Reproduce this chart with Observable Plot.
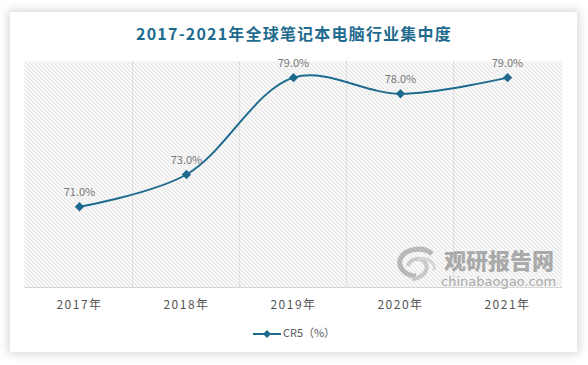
<!DOCTYPE html>
<html>
<head>
<meta charset="utf-8">
<script src="https://cdn.jsdelivr.net/npm/d3@7"></script>
<script src="https://cdn.jsdelivr.net/npm/@observablehq/plot@0.6"></script>
<style>
  html, body { margin: 0; padding: 0; background: #fff; width: 588px; height: 365px; overflow: hidden; }
  #card { position: absolute; left: 10px; top: 12px; width: 567px; height: 340px; background: #fff;
          box-shadow: 0 0 9px 2px rgba(0,0,0,0.16); }
  #title { position: absolute; left: 0; top: 22px; width: 588px; text-align: center; white-space: nowrap;
           font-family: "Noto Sans CJK SC", sans-serif; font-weight: bold; font-size: 16px;
           letter-spacing: 1.2px; color: #1f6b8f; line-height: 22px; }
  #chart { position: absolute; left: 0; top: 45px; }
  #legend { position: absolute; left: 0; top: 323px; width: 588px; text-align: center;
            font-family: "Noto Sans CJK SC", sans-serif; font-size: 11px; color: #595959; line-height: 18px; }
  #legend svg { vertical-align: middle; margin-right: 2px; }
  #wm { position: absolute; left: 396px; top: 246px; opacity: 0.55; pointer-events: none; }
  #wm .cn { position: absolute; left: 48px; top: 1px; font-family: "Noto Sans CJK SC", sans-serif;
            font-weight: 900; font-size: 22px; color: #6f6f6f; white-space: nowrap; line-height: 24px; }
  #wm .en { position: absolute; left: 45px; top: 29px; font-family: "DejaVu Sans", sans-serif;
            font-size: 13px; color: #6f6f6f; white-space: nowrap; line-height: 13px; }
</style>
</head>
<body>
<div id="card"></div>
<div id="title">2017-2021年全球笔记本电脑行业集中度</div>
<div id="chart"></div>
<div id="wm">
  <svg width="44" height="36" viewBox="0 0 44 36">
    <path d="M36,8 C28,0 8,2 4,14 C2,22 10,30 20,30" fill="none" stroke="#8a8a8a" stroke-width="5"/>
    <path d="M12,20 C14,12 26,10 30,18 C33,25 26,32 16,33" fill="none" stroke="#a8a8a8" stroke-width="4"/>
    <path d="M22,14 C30,10 40,16 38,24" fill="none" stroke="#bdbdbd" stroke-width="3"/>
  </svg>
  <div class="cn">观研报告网</div>
  <div class="en">chinabaogao.com</div>
</div>
<div id="legend"></div>
<script>
const years = ["2017年", "2018年", "2019年", "2020年", "2021年"];
const cr5 = [71.0, 73.0, 79.0, 78.0, 79.0];
const seriesName = "CR5（%）";
const yDomain = [66, 80];

const color = "#1d6a8e";
const data = years.map((y, i) => ({year: y, value: cr5[i]}));

const W = 588, H = 275, mL = 24, mR = 26, mT = 16, mB = 33;
const step = (W - mL - mR) / years.length;

const svg = Plot.plot({
  width: W,
  height: H,
  marginLeft: mL,
  marginRight: mR,
  marginTop: mT,
  marginBottom: mB,
  style: {background: "transparent", overflow: "visible"},
  x: {type: "point", domain: years, padding: 0.5, label: null},
  y: {domain: yDomain, axis: null},
  marks: [
    Plot.frame({fill: "url(#hatch)", stroke: null}),
    Plot.ruleX(years.slice(1), {dx: -step / 2, stroke: "#dcdcdc", strokeWidth: 1}),
    Plot.ruleY([yDomain[0]], {stroke: "#d6d6d6", strokeWidth: 1}),
    Plot.axisX({tickSize: 0, tickPadding: 13, fontSize: 12, fill: "#555", label: null,
                fontFamily: "Noto Sans CJK SC"}),
    Plot.line(data, {x: "year", y: "value", curve: "catmull-rom", stroke: color, strokeWidth: 2}),
    Plot.dot(data, {x: "year", y: "value", symbol: "diamond2", r: 4.2, fill: color, stroke: null}),
    Plot.text(data, {x: "year", y: "value", text: d => d.value.toFixed(1) + "%", dy: -14,
                     fontSize: 11, fill: "#777", fontFamily: "Noto Sans CJK SC"})
  ]
});

const ns = "http://www.w3.org/2000/svg";
const defs = document.createElementNS(ns, "defs");
defs.innerHTML = `<pattern id="hatch" patternUnits="userSpaceOnUse" width="4" height="4">
  <rect width="4" height="4" fill="#ffffff"/>
  <path d="M-1,-1 L5,5 M-1,3 L1,5 M3,-1 L5,1" stroke="#cdcdcd" stroke-width="1"/>
</pattern>`;
svg.insertBefore(defs, svg.firstChild);
d3.select(svg).selectAll("[aria-label='x-axis tick label'] text").style("letter-spacing", "1.5px");
document.getElementById("chart").appendChild(svg);

document.getElementById("legend").innerHTML =
  `<svg width="28" height="10"><line x1="0" y1="5" x2="28" y2="5" stroke="${color}" stroke-width="2"/>` +
  `<path d="M14,1 L18,5 L14,9 L10,5 Z" fill="${color}"/></svg>${seriesName}`;
</script>
</body>
</html>
